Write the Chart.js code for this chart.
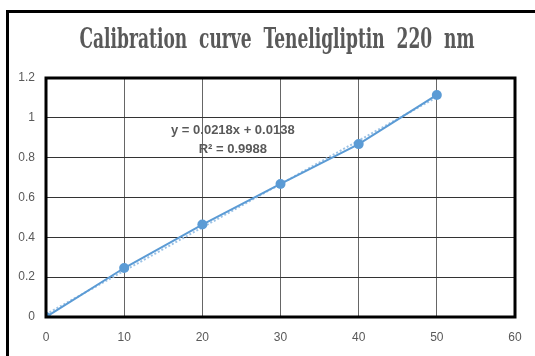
<!DOCTYPE html>
<html>
<head>
<meta charset="utf-8">
<script src="https://cdn.jsdelivr.net/npm/chart.js@4"></script>
<style>
    html, body { margin: 0; padding: 0; background: #fff; overflow: hidden; }
    #wrap { position: relative; width: 535px; height: 356px; }
    #frame {
        position: absolute; left: 6px; top: 10px; width: 600px; height: 400px;
        border: 3px solid #000; box-sizing: border-box;
    }
    canvas { position: absolute; left: 0; top: 0; }
</style>
</head>
<body>
<div id="wrap">
    <div id="frame"></div>
    <canvas id="calChart" width="535" height="356"></canvas>
</div>
<script>
// Data
const concentrations = [0, 10, 20, 30, 40, 50];
const absorbance = [0, 0.246, 0.464, 0.668, 0.868, 1.115];
// Linear trendline, y = 0.0218x + 0.0138 at both ends
const trendX = [0, 50];
const trendY = [0.0138, 1.1038];
const titleText = 'Calibration  curve  Teneligliptin  220  nm';
const equationText = 'y = 0.0218x + 0.0138';
const r2Text = 'R² = 0.9988';

const labelGray = '#595959';
const lineBlue = '#5B9BD5';
const serifFont = '"DejaVu Serif", "Liberation Serif", "Times New Roman", serif';
const tickFont = '"Liberation Sans Narrow", "Liberation Sans", sans-serif';

// Title, thick black plot border and the trendline equation
const plotExtras = {
    id: 'plotExtras',
    afterDraw(chart) {
        const { ctx, chartArea, scales } = chart;
        ctx.save();
        ctx.strokeStyle = '#000';
        ctx.lineWidth = 3;
        ctx.strokeRect(chartArea.left, chartArea.top, chartArea.right - chartArea.left, chartArea.bottom - chartArea.top);

        // title, fitted to the width it has in the reference (which is stretched vertically)
        ctx.save();
        ctx.fillStyle = labelGray;
        ctx.font = 'bold 18px ' + serifFont;
        ctx.textAlign = 'center';
        ctx.textBaseline = 'alphabetic';
        const w = ctx.measureText(titleText).width;
        ctx.translate(277, 48);
        ctx.scale(395 / w, 1.55);
        ctx.fillText(titleText, 0, 0);
        ctx.restore();

        ctx.fillStyle = labelGray;
        ctx.font = 'bold 13px ' + tickFont;
        ctx.textAlign = 'center';
        ctx.textBaseline = 'middle';
        const cx = scales.x.getPixelForValue(23.9);
        ctx.fillText(equationText, cx, scales.y.getPixelForValue(0.935));
        ctx.fillText(r2Text, cx, scales.y.getPixelForValue(0.84));
        ctx.restore();
    }
};

function buildChart() {
    const ctx = document.getElementById('calChart').getContext('2d');
    new Chart(ctx, {
        type: 'scatter',
        data: {
            datasets: [
                {
                    label: 'Absorbance',
                    data: concentrations.map((x, i) => ({ x: x, y: absorbance[i] })),
                    showLine: true,
                    borderColor: lineBlue,
                    backgroundColor: lineBlue,
                    borderWidth: 2,
                    pointRadius: 5,
                    pointBorderWidth: 0,
                    tension: 0,
                    order: 1
                },
                {
                    label: 'Linear',
                    data: trendX.map((x, i) => ({ x: x, y: trendY[i] })),
                    showLine: true,
                    borderColor: '#9DC3E6',
                    borderWidth: 2,
                    borderDash: [2, 2],
                    pointRadius: 0,
                    order: 2
                }
            ]
        },
        options: {
            responsive: false,
            animation: false,
            layout: { padding: { left: 0, right: 20, top: 78, bottom: 0 } },
            plugins: {
                legend: { display: false },
                tooltip: { enabled: false },
                title: { display: false }
            },
            scales: {
                x: {
                    type: 'linear',
                    min: 0,
                    max: 60,
                    ticks: {
                        stepSize: 10,
                        color: labelGray,
                        padding: 13,
                        font: { family: tickFont, size: 12 }
                    },
                    grid: { color: '#666', lineWidth: 1, drawTicks: false },
                    border: { display: false },
                    afterFit(scale) { scale.height = 39; }
                },
                y: {
                    min: 0,
                    max: 1.2,
                    ticks: {
                        stepSize: 0.2,
                        color: labelGray,
                        padding: 11,
                        font: { family: tickFont, size: 12 },
                        callback: v => String(Number(v.toFixed(1)))
                    },
                    grid: { color: '#333', lineWidth: 1, drawTicks: false },
                    border: { display: false },
                    afterFit(scale) { scale.width = 46; }
                }
            }
        },
        plugins: [plotExtras]
    });
}

// make sure the serif face is ready before the first draw
if (document.fonts && document.fonts.load) {
    document.fonts.load('bold 18px "DejaVu Serif"').then(buildChart, buildChart);
} else {
    buildChart();
}
</script>
</body>
</html>
